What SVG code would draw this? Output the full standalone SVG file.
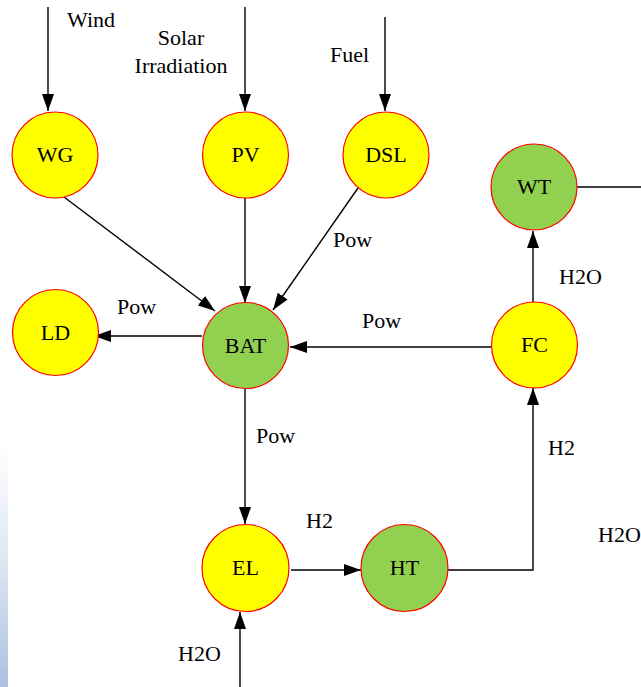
<svg xmlns="http://www.w3.org/2000/svg" width="641" height="687" viewBox="0 0 641 687">
<style>
.y{fill:#ffff00;stroke:#ff0000;stroke-width:1.2}
.g{fill:#92d050;stroke:#ff0000;stroke-width:1.2}
.t{font-family:'Liberation Serif','Times New Roman',serif;font-size:22px;fill:#000}
.c{text-anchor:middle}
.l{fill:none;stroke:#000;stroke-width:1.4}
</style>
<defs>
<marker id="a" markerUnits="userSpaceOnUse" markerWidth="18" markerHeight="12" refX="17" refY="6" orient="auto">
<path d="M0,0 L17,6 L0,12 Z" fill="#000"/>
</marker>
<linearGradient id="bg" x1="0" y1="0" x2="0" y2="1">
<stop offset="0" stop-color="#ffffff"/>
<stop offset="0.5" stop-color="#dde6f2"/>
<stop offset="1" stop-color="#aabfe0"/>
</linearGradient>
</defs>
<rect x="0" y="442" width="8" height="245" fill="url(#bg)"/>
<g id="connectors">
<line class="l" x1="48" y1="7" x2="48" y2="111" marker-end="url(#a)"/>
<line class="l" x1="245" y1="7" x2="245" y2="111" marker-end="url(#a)"/>
<line class="l" x1="385" y1="17" x2="385" y2="111" marker-end="url(#a)"/>
<line class="l" x1="64" y1="197" x2="215" y2="311" marker-end="url(#a)"/>
<line class="l" x1="245" y1="198" x2="245" y2="303" marker-end="url(#a)"/>
<line class="l" x1="358" y1="188" x2="273" y2="310" marker-end="url(#a)"/>
<line class="l" x1="202" y1="336" x2="94" y2="336" marker-end="url(#a)"/>
<line class="l" x1="491" y1="347" x2="290" y2="347" marker-end="url(#a)"/>
<line class="l" x1="245" y1="388" x2="245" y2="524" marker-end="url(#a)"/>
<line class="l" x1="291" y1="570" x2="361" y2="570" marker-end="url(#a)"/>
<polyline class="l" points="448,570 533,570 533,388" marker-end="url(#a)"/>
<line class="l" x1="533" y1="302" x2="533" y2="231" marker-end="url(#a)"/>
<line class="l" x1="577" y1="187" x2="641" y2="187"/>
<line class="l" x1="240" y1="687" x2="240" y2="612" marker-end="url(#a)"/>
</g>
<g id="labels">
<text class="t" x="67" y="27">Wind</text>
<text class="t c" x="181" y="45">Solar</text>
<text class="t c" x="181" y="73">Irradiation</text>
<text class="t" x="330" y="62">Fuel</text>
<text class="t" x="333" y="247">Pow</text>
<text class="t" x="117" y="314">Pow</text>
<text class="t" x="362" y="328">Pow</text>
<text class="t" x="559" y="284">H2O</text>
<text class="t" x="548" y="455">H2</text>
<text class="t" x="256" y="443">Pow</text>
<text class="t" x="306" y="528">H2</text>
<text class="t" x="598" y="542">H2O</text>
<text class="t" x="178" y="661">H2O</text>
</g>
<g id="WG"><circle class="y" cx="55" cy="155" r="43"/><text class="t c" x="55" y="162">WG</text></g>
<g id="PV"><circle class="y" cx="245.5" cy="155" r="43"/><text class="t c" x="245.5" y="162">PV</text></g>
<g id="DSL"><circle class="y" cx="386" cy="155" r="43"/><text class="t c" x="386" y="162">DSL</text></g>
<g id="WT"><circle class="g" cx="534" cy="187" r="43"/><text class="t c" x="534" y="194">WT</text></g>
<g id="LD"><circle class="y" cx="55.5" cy="332.5" r="43"/><text class="t c" x="55.5" y="340">LD</text></g>
<g id="BAT"><circle class="g" cx="245.5" cy="345.5" r="43"/><text class="t c" x="245.5" y="353">BAT</text></g>
<g id="FC"><circle class="y" cx="534.5" cy="345" r="43"/><text class="t c" x="534.5" y="352">FC</text></g>
<g id="EL"><circle class="y" cx="245.5" cy="568" r="43.5"/><text class="t c" x="245.5" y="575">EL</text></g>
<g id="HT"><circle class="g" cx="404.5" cy="568" r="43.5"/><text class="t c" x="404.5" y="575">HT</text></g>
</svg>
